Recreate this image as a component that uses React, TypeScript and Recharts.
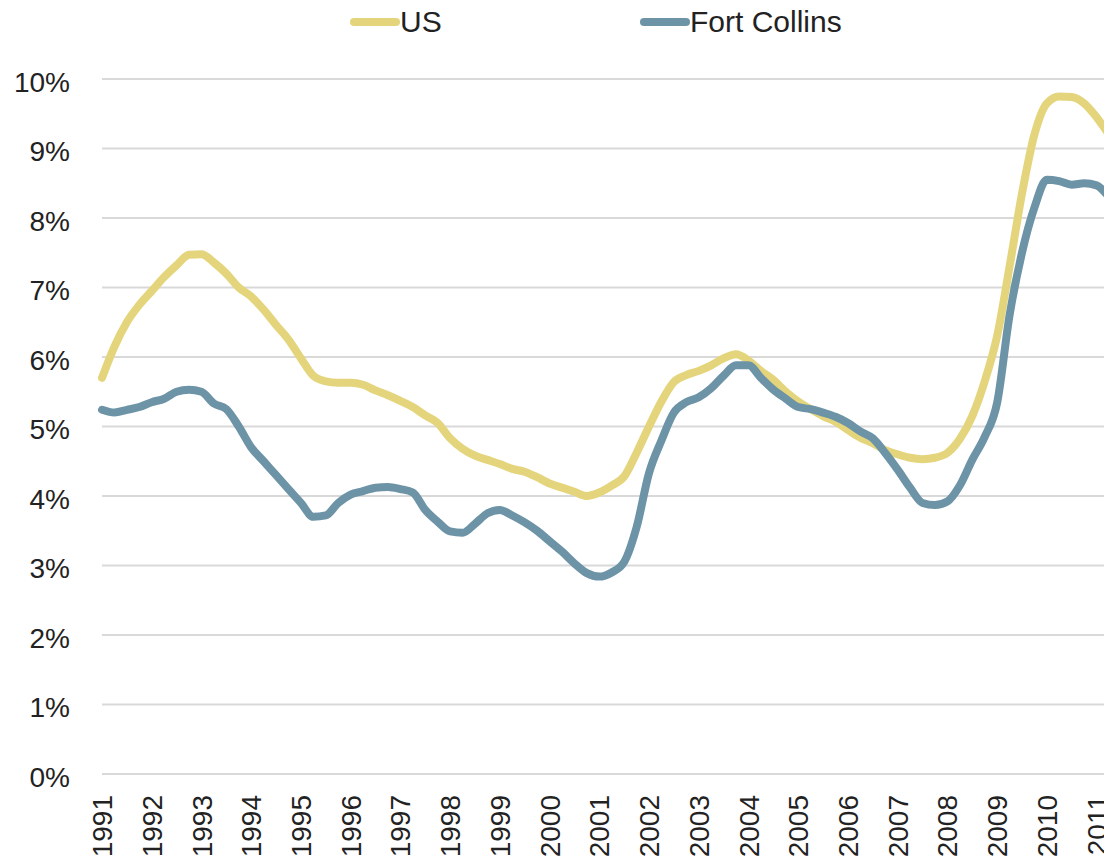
import { CartesianGrid, Legend, Line, LineChart, XAxis, YAxis } from "recharts";

// quarterly unemployment rate, %
const years = [
  1991, 1992, 1993, 1994, 1995, 1996, 1997, 1998, 1999, 2000, 2001,
  2002, 2003, 2004, 2005, 2006, 2007, 2008, 2009, 2010, 2011,
];
const quarters = ["Q1", "Q2", "Q3", "Q4"];

const us = [
  5.7, 6.15, 6.5, 6.75, 6.95, 7.15, 7.32, 7.47, 7.48, 7.36, 7.2, 7.0,
  6.87, 6.68, 6.46, 6.25, 5.98, 5.73, 5.65, 5.63, 5.63, 5.6, 5.52, 5.45,
  5.37, 5.28, 5.16, 5.05, 4.83, 4.68, 4.58, 4.52, 4.46, 4.39, 4.35, 4.27,
  4.18, 4.12, 4.06, 4.0, 4.05, 4.15, 4.28, 4.62, 5.0, 5.36, 5.64, 5.74,
  5.8, 5.88, 5.98, 6.04, 5.95, 5.8, 5.67, 5.5, 5.36, 5.25, 5.15, 5.07,
  4.95, 4.84, 4.76, 4.66, 4.6, 4.55, 4.53, 4.55, 4.62, 4.82, 5.15, 5.65,
  6.3, 7.3, 8.35, 9.2, 9.65, 9.75, 9.74, 9.65, 9.45, 9.2,
];

const fortCollins = [
  5.24, 5.2, 5.24, 5.28, 5.35, 5.4, 5.5, 5.53, 5.5, 5.33, 5.25, 5.0,
  4.7, 4.5, 4.3, 4.1, 3.9, 3.7, 3.72, 3.9, 4.02, 4.07, 4.12, 4.13,
  4.1, 4.05, 3.8, 3.63, 3.49, 3.47, 3.6, 3.75, 3.8, 3.72, 3.62, 3.5,
  3.35, 3.2, 3.03, 2.89, 2.84, 2.9, 3.05, 3.55, 4.33, 4.8, 5.2, 5.35,
  5.42, 5.55, 5.73, 5.88, 5.88, 5.7, 5.53, 5.4, 5.28, 5.25, 5.2, 5.14,
  5.05, 4.93, 4.83, 4.62, 4.38, 4.12, 3.9, 3.87, 3.92, 4.15, 4.52, 4.85,
  5.34, 6.6, 7.5, 8.15, 8.55, 8.53, 8.48, 8.5, 8.47, 8.3,
];

const yTicks = [0, 1, 2, 3, 4, 5, 6, 7, 8, 9, 10];

const periods = years.flatMap((y) => quarters.map((q) => `${y} ${q}`)).slice(0, us.length);

const data = periods.map((period, i) => ({ period, us: us[i], fc: fortCollins[i] }));

const US_COLOR = "#e4d57c";
const FC_COLOR = "#6d93a7";
const FONT = "'Liberation Sans', Arial, Helvetica, sans-serif";

function YearTick({ x, y, payload }: { x: number; y: number; payload: { value: string } }) {
  return (
    <text
      x={x}
      y={y}
      transform={`rotate(-90 ${x} ${y})`}
      textAnchor="end"
      dy="0.36em"
      fontSize={28}
      fontFamily={FONT}
      fill="#222"
    >
      {payload.value.slice(0, 4)}
    </text>
  );
}

function ChartLegend() {
  const items = [
    { name: "US", color: US_COLOR, left: 350 },
    { name: "Fort Collins", color: FC_COLOR, left: 640 },
  ];
  return (
    <div style={{ position: "relative", height: 40, width: 1104 }}>
      {items.map((it) => (
        <div
          key={it.name}
          style={{ position: "absolute", left: it.left, top: 5, display: "flex", alignItems: "center" }}
        >
          <span
            style={{ width: 50, height: 8, borderRadius: 4, background: it.color, display: "inline-block" }}
          />
          <span style={{ fontSize: 30, fontFamily: FONT, color: "#222", lineHeight: "34px" }}>{it.name}</span>
        </div>
      ))}
    </div>
  );
}

export default function App() {
  return (
    <div
      style={{
        position: "absolute",
        left: 0,
        top: 0,
        width: 1104,
        height: 866,
        overflow: "hidden",
        background: "#fff",
      }}
    >
      <LineChart width={1140} height={866} data={data} margin={{ top: 39, right: 31, bottom: 0, left: 0 }}>
        <Legend verticalAlign="top" align="left" content={() => <ChartLegend />} wrapperStyle={{ top: 0, left: 0 }} />
        <CartesianGrid vertical={false} stroke="#d9d9d9" strokeWidth={2} />
        <XAxis
          dataKey="period"
          interval={3}
          axisLine={false}
          tickLine={false}
          tickSize={0}
          tickMargin={21}
          height={92}
          tick={(props: any) => <YearTick {...props} />}
        />
        <YAxis
          width={102}
          domain={[0, 10]}
          ticks={yTicks}
          tickFormatter={(v: number) => `${v}%`}
          axisLine={false}
          tickLine={false}
          tickSize={0}
          tickMargin={32}
          tick={{ fontSize: 28, fontFamily: FONT, fill: "#222", dy: 3 }}
        />
        <Line
          type="monotone"
          dataKey="us"
          stroke={US_COLOR}
          strokeWidth={8}
          dot={false}
          strokeLinecap="round"
          isAnimationActive={false}
        />
        <Line
          type="monotone"
          dataKey="fc"
          stroke={FC_COLOR}
          strokeWidth={8}
          dot={false}
          strokeLinecap="round"
          isAnimationActive={false}
        />
      </LineChart>
    </div>
  );
}
